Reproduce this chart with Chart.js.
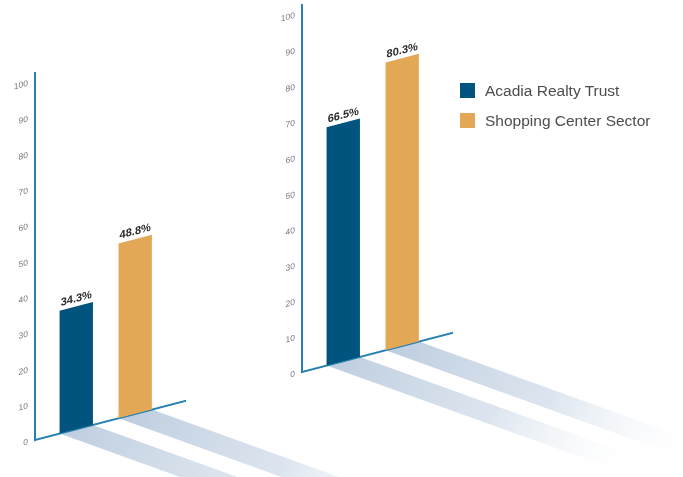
<!DOCTYPE html>
<html>
<head>
<meta charset="utf-8">
<script src="https://cdn.jsdelivr.net/npm/chart.js@4.4.1/dist/chart.umd.min.js"></script>
<style>
  html, body { margin: 0; padding: 0; background: #fff; }
  #wrap { position: relative; width: 683px; height: 477px; overflow: hidden; font-family: 'Liberation Sans', Arial, sans-serif; }
  #wrap canvas { position: absolute; left: 0; top: 0; }
  #legend { position: absolute; left: 460px; top: 83px; }
  .item { display: flex; align-items: center; height: 15px; margin-bottom: 15px; font-size: 15.5px; color: #4d4d4d; white-space: nowrap; }
  .swatch { width: 15px; height: 15px; margin-right: 10px; flex: none; }
</style>
</head>
<body>
<div id="wrap">
  <canvas id="left" width="683" height="477"></canvas>
  <canvas id="right" width="683" height="477"></canvas>
  <div id="legend"></div>
</div>
<script>
// values
const seriesNames = ['Acadia Realty Trust', 'Shopping Center Sector'];
const acadiaValues = [34.3, 66.5];   // left panel, right panel
const sectorValues = [48.8, 80.3];
const seriesColors = ['#00547e', '#e3a855'];
const yTickValues = [0, 10, 20, 30, 40, 50, 60, 70, 80, 90, 100];

const axisColor = '#2680b0';
const skew = -0.26;        // slope of the floor line
const shadowSlope = 0.62;  // shadow direction before the skew
const shadowLength = 300;

// skews the whole drawing, paints floor shadows and value labels
const skewPlugin = {
  id: 'skew',
  beforeDraw(chart) {
    const { ctx, chartArea } = chart;
    ctx.save();
    ctx.translate(chartArea.left, chartArea.bottom);
    ctx.transform(1, skew, 0, 1, 0, 0);
    ctx.translate(-chartArea.left, -chartArea.bottom);

    chart.data.datasets.forEach((ds, i) => {
      chart.getDatasetMeta(i).data.forEach(bar => {
        const { x, base, width } = bar.getProps(['x', 'base', 'width'], true);
        const l = x - width / 2, r = x + width / 2;
        const dx = shadowLength, dy = shadowLength * shadowSlope;
        const g = ctx.createLinearGradient(x, base, x + dx, base + dy);
        g.addColorStop(0, 'rgba(192,207,224,1)');
        g.addColorStop(0.5, 'rgba(212,223,235,0.8)');
        g.addColorStop(1, 'rgba(255,255,255,0)');
        ctx.fillStyle = g;
        ctx.beginPath();
        ctx.moveTo(l, base);
        ctx.lineTo(r, base);
        ctx.lineTo(r + dx, base + dy);
        ctx.lineTo(l + dx, base + dy);
        ctx.closePath();
        ctx.fill();
      });
    });
  },
  afterDatasetsDraw(chart) {
    const ctx = chart.ctx;
    ctx.save();
    ctx.font = 'bold 11px "Liberation Sans", Arial, sans-serif';
    ctx.fillStyle = '#2a2a2a';
    ctx.textAlign = 'center';
    ctx.textBaseline = 'bottom';
    chart.data.datasets.forEach((ds, i) => {
      chart.getDatasetMeta(i).data.forEach((bar, j) => {
        const { x, y } = bar.getProps(['x', 'y'], true);
        ctx.fillText(ds.data[j].y.toFixed(1) + '%', x, y - 2);
      });
    });
    ctx.restore();
  },
  afterDraw(chart) {
    chart.ctx.restore();
  }
};

function makePanel(canvasId, idx, pad) {
  return new Chart(document.getElementById(canvasId), {
    type: 'bar',
    data: {
      datasets: [
        { label: seriesNames[0], data: [{ x: 1, y: acadiaValues[idx] }], backgroundColor: seriesColors[0] },
        { label: seriesNames[1], data: [{ x: 2, y: sectorValues[idx] }], backgroundColor: seriesColors[1] }
      ]
    },
    options: {
      responsive: false,
      animation: false,
      devicePixelRatio: 1,
      grouped: false,
      categoryPercentage: 1,
      barPercentage: 0.566,
      layout: { padding: pad },
      plugins: { legend: { display: false }, tooltip: { enabled: false } },
      scales: {
        x: {
          type: 'linear',
          min: 0.3,
          max: 2.845,
          offset: false,
          z: 1,
          grid: { display: false, drawTicks: false },
          ticks: { display: false },
          border: { color: axisColor, width: 2 },
          afterBuildTicks: s => { s.ticks = [{ value: 1 }, { value: 2 }]; },
          afterFit: s => { s.height = 0; s.paddingLeft = 0; s.paddingRight = 0; }
        },
        y: {
          min: 0,
          max: 102.4,
          grid: { display: false, drawTicks: false },
          border: { color: axisColor, width: 2 },
          ticks: {
            padding: 7,
            color: '#7a7a7a',
            font: { family: '"Liberation Sans", Arial, sans-serif', size: 8.5 }
          },
          afterBuildTicks: s => { s.ticks = yTickValues.map(v => ({ value: v })); },
          afterFit: s => { s.width = 30; s.paddingTop = 0; s.paddingBottom = 0; }
        }
      }
    },
    plugins: [skewPlugin]
  });
}

makePanel('left', 0, { left: 5, top: 73, bottom: 37, right: 498 });
makePanel('right', 1, { left: 272, top: 5, bottom: 105, right: 231 });

const legend = document.getElementById('legend');
seriesNames.forEach((name, i) => {
  const item = document.createElement('div');
  item.className = 'item';
  item.innerHTML = '<span class="swatch" style="background:' + seriesColors[i] + '"></span>' + name;
  legend.appendChild(item);
});
</script>
</body>
</html>
